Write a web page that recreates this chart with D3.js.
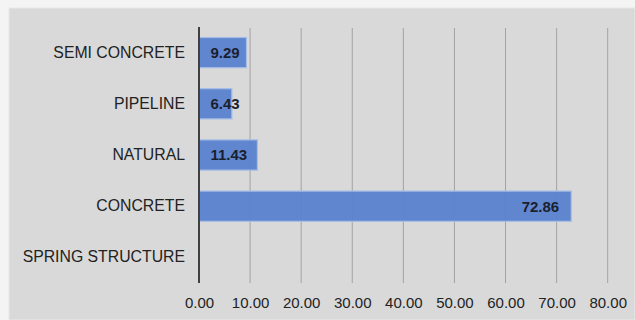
<!DOCTYPE html>
<html>
<head>
<meta charset="utf-8">
<script src="https://cdn.jsdelivr.net/npm/d3@7"></script>
<style>
  html, body { margin: 0; padding: 0; background: #f4f4f4; }
  svg { display: block; }
  text { font-family: "Liberation Sans", Arial, sans-serif; }
</style>
</head>
<body>
<svg id="chart" width="635" height="320"></svg>
<script>
const categories = ["SEMI CONCRETE", "PIPELINE", "NATURAL", "CONCRETE", "SPRING STRUCTURE"];
const values = [9.29, 6.43, 11.43, 72.86, 0];
const tickValues = [0, 10, 20, 30, 40, 50, 60, 70, 80];

const W = 635, H = 320;
const svg = d3.select("#chart");

// panel
svg.append("rect").attr("x", 9).attr("y", 8).attr("width", W - 9).attr("height", H - 8)
  .attr("fill", "#d9d9d9").attr("stroke", "#e8e8e8").attr("stroke-width", 1);

const plot = { left: 199, right: 607.7, top: 27, bottom: 283 };

const x = d3.scaleLinear().domain([0, 80]).range([plot.left, plot.right]);
const y = d3.scaleBand().domain(categories).range([plot.top, plot.bottom]).paddingInner(0.41).paddingOuter(0.205);

// gridlines
svg.append("g").selectAll("line").data(tickValues.filter(d => d > 0)).join("line")
  .attr("x1", d => x(d)).attr("x2", d => x(d))
  .attr("y1", plot.top + 1).attr("y2", plot.bottom)
  .attr("stroke", "#a3a3a3").attr("stroke-width", 1);

// x axis tick labels
const xAxis = d3.axisBottom(x).tickValues(tickValues).tickFormat(d3.format(".2f")).tickSize(0).tickPadding(0);
const gx = svg.append("g").attr("transform", `translate(0,${plot.bottom})`).call(xAxis);
gx.select(".domain").remove();
gx.selectAll("text").attr("font-size", 15).attr("fill", "#222").attr("dy", null).attr("y", 24.5)
  .attr("font-family", "'Liberation Sans', Arial, sans-serif");

// bars
svg.append("g").selectAll("rect").data(values).join("rect")
  .attr("x", x(0))
  .attr("y", (d, i) => y(categories[i]))
  .attr("width", d => x(d) - x(0))
  .attr("height", y.bandwidth())
  .attr("fill", "#5a82cf")
  .attr("fill-opacity", 0.95)
  .attr("stroke", "#a5bde6")
  .attr("stroke-width", d => d > 0 ? 1.2 : 0);

// y axis
const yAxis = d3.axisLeft(y).tickSize(0).tickPadding(14);
const gy = svg.append("g").attr("transform", `translate(${plot.left},0)`).call(yAxis);
gy.select(".domain").remove();
gy.selectAll("text").attr("font-size", 15.8).attr("fill", "#222")
  .attr("font-family", "'Liberation Sans', Arial, sans-serif");

// axis line
svg.append("line").attr("x1", x(0)).attr("x2", x(0)).attr("y1", plot.top).attr("y2", plot.bottom)
  .attr("stroke", "#404040").attr("stroke-width", 2);

// value labels
const lbl = svg.append("g").selectAll("text").data(values.map((v, i) => ({ v, c: categories[i] })).filter(d => d.v > 0)).join("text")
  .attr("font-size", 15).attr("font-weight", "bold").attr("fill", "#1b1f2e")
  .attr("y", d => y(d.c) + y.bandwidth() / 2).attr("dy", "0.36em")
  .text(d => d.v.toFixed(2));
lbl.each(function(d) {
  const w = this.getComputedTextLength();
  const xs = Math.max(x(d.v) - 12 - w, x(0) + 11.5);
  d3.select(this).attr("x", xs);
});
</script>
</body>
</html>
